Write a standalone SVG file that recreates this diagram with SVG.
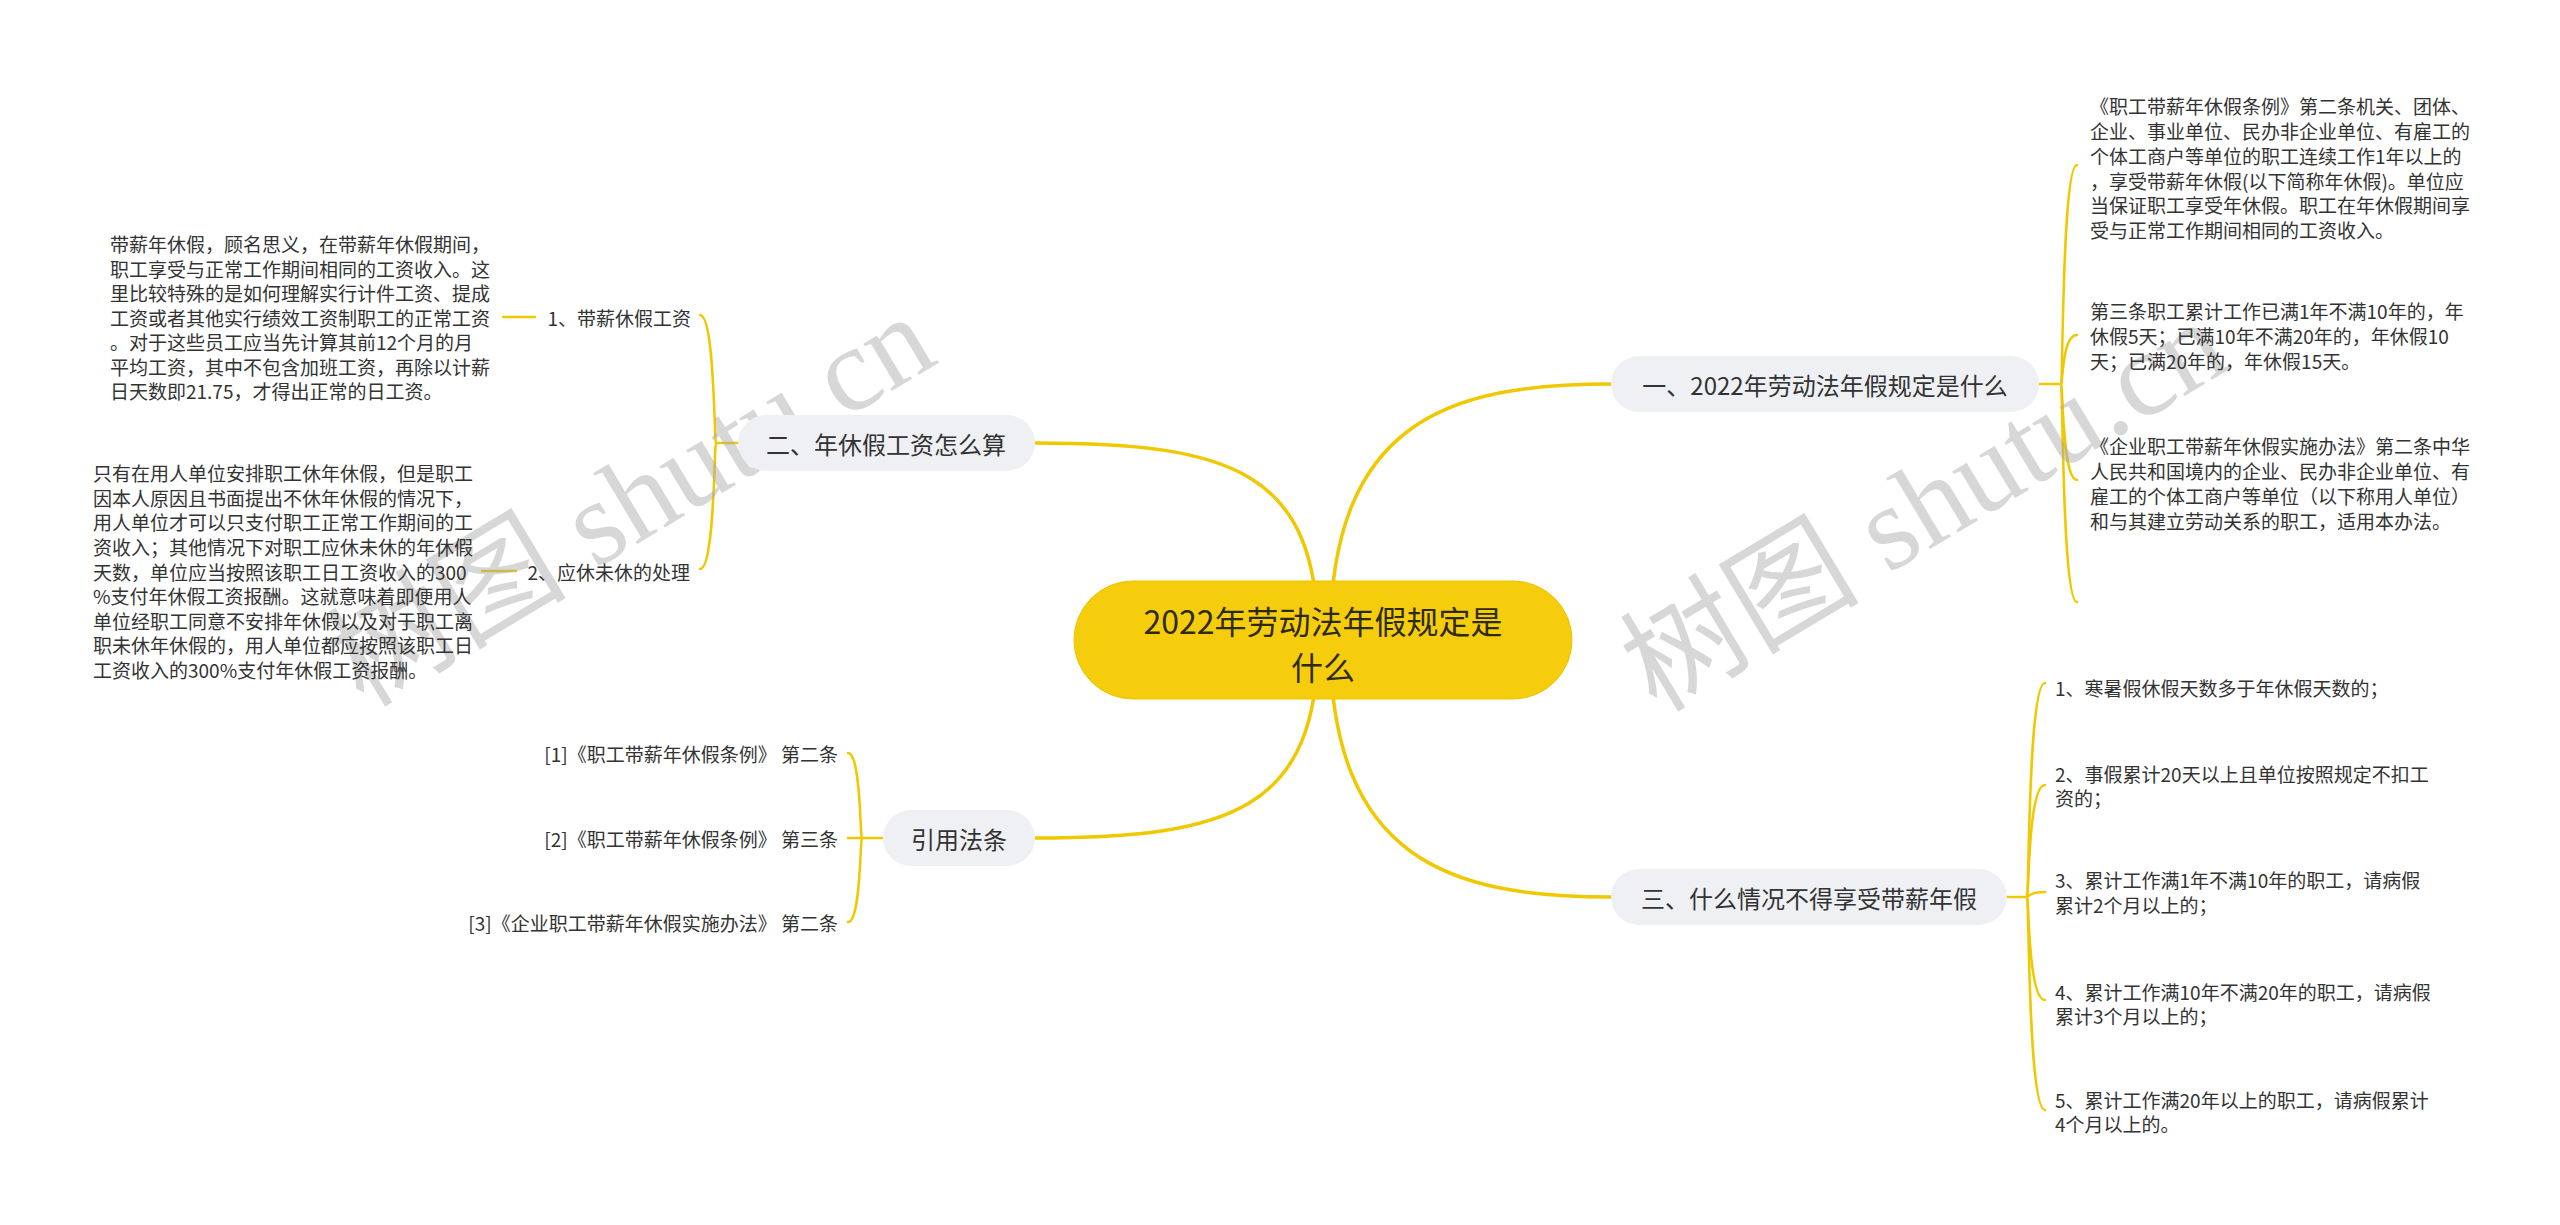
<svg xmlns="http://www.w3.org/2000/svg" width="2560" height="1225" viewBox="0 0 2560 1225">
<style>
text{font-family:"Noto Sans CJK SC","Noto Sans",sans-serif;fill:#333;dominant-baseline:central}
.c{font-size:32px;text-anchor:middle;fill:#2e2a10}
.b{font-size:24px;text-anchor:middle}
.t{font-size:19px}
.r{font-size:19px;text-anchor:end}
.bn{fill:#eef0f3}
.ln{fill:none;stroke:#f0c800;stroke-width:3.5;stroke-linecap:round}
.sl{fill:none;stroke:#f0c800;stroke-width:2.5;stroke-linecap:round}
.wm{font-family:"Liberation Serif","Noto Sans CJK SC",serif;font-size:120px;fill:#a8a8a8;opacity:0.45;dominant-baseline:auto;text-anchor:middle}
</style>
<rect width="2560" height="1225" fill="#fff"/>
<g id="connectors">
<path class="ln" d="M1330,640 C1330,420 1450,384 1611,384"/>
<path class="ln" d="M1330,640 C1330,860 1450,897 1611,897"/>
<path class="ln" d="M1035,443 C1230,443 1318,470 1318,640"/>
<path class="ln" d="M1035,838 C1230,838 1318,810 1318,640"/>
<path class="sl" d="M2039,384 L2061,384"/>
<path class="sl" d="M2061,384 C2063,384 2062,165 2077,165"/>
<path class="sl" d="M2061,384 C2063,384 2062,335 2077,335"/>
<path class="sl" d="M2061,384 C2063,384 2062,480 2077,480"/>
<path class="sl" d="M2061,384 C2063,384 2062,602 2077,602"/>
<path class="sl" d="M2007,897 L2027,897"/>
<path class="sl" d="M2027,897 C2029,897 2028,683 2045,683"/>
<path class="sl" d="M2027,897 C2029,897 2028,785 2045,785"/>
<path class="sl" d="M2027,897 C2029,897 2028,892 2045,892"/>
<path class="sl" d="M2027,897 C2029,897 2028,1000 2045,1000"/>
<path class="sl" d="M2027,897 C2029,897 2028,1110 2045,1110"/>
<path class="sl" d="M738,443 L716,443"/>
<path class="sl" d="M716,443 C714,443 715,315 700,315"/>
<path class="sl" d="M716,443 C714,443 715,569 700,569"/>
<path class="sl" d="M535,317 L503,317"/>
<path class="sl" d="M516,571 L482,571"/>
<path class="sl" d="M883,838 L862,838"/>
<path class="sl" d="M862,838 C860,838 861,753 848,753"/>
<path class="sl" d="M862,838 L848,838"/>
<path class="sl" d="M862,838 C860,838 861,922 848,922"/>
</g>
<g id="watermark">
<text class="wm" transform="translate(652,535) rotate(-31)">树图 shutu.cn</text>
<text class="wm" transform="translate(1945,540) rotate(-31)">树图 shutu.cn</text>
</g>
<g id="center">
<rect x="1074" y="581" width="498" height="118" rx="59" fill="#f5cd0c" stroke="#ecc200" stroke-width="1"/>
<text class="c" x="1323" y="620">2022年劳动法年假规定是</text>
<text class="c" x="1323" y="666">什么</text>
</g>
<g id="b1">
<rect class="bn" x="1611" y="356" width="428" height="56" rx="28"/>
<text class="b" x="1825" y="384">一、2022年劳动法年假规定是什么</text>
</g>
<g id="b3">
<rect class="bn" x="1611" y="869" width="396" height="56" rx="28"/>
<text class="b" x="1809" y="897">三、什么情况不得享受带薪年假</text>
</g>
<g id="b2">
<rect class="bn" x="738" y="415" width="297" height="56" rx="28"/>
<text class="b" x="886" y="443">二、年休假工资怎么算</text>
</g>
<g id="b4">
<rect class="bn" x="883" y="810" width="152" height="56" rx="28"/>
<text class="b" x="959" y="838">引用法条</text>
</g>
<g id="b1c1">
<text class="t" x="2090"><tspan x="2090" y="105">《职工带薪年休假条例》第二条机关、团体、</tspan><tspan x="2090" y="130">企业、事业单位、民办非企业单位、有雇工的</tspan><tspan x="2090" y="155">个体工商户等单位的职工连续工作1年以上的</tspan><tspan x="2090" y="180">，享受带薪年休假(以下简称年休假)。单位应</tspan><tspan x="2090" y="204">当保证职工享受年休假。职工在年休假期间享</tspan><tspan x="2090" y="229">受与正常工作期间相同的工资收入。</tspan></text>
</g>
<g id="b1c2">
<text class="t" x="2090"><tspan x="2090" y="310">第三条职工累计工作已满1年不满10年的，年</tspan><tspan x="2090" y="335">休假5天；已满10年不满20年的，年休假10</tspan><tspan x="2090" y="360">天；已满20年的，年休假15天。</tspan></text>
</g>
<g id="b1c3">
<text class="t" x="2090"><tspan x="2090" y="445">《企业职工带薪年休假实施办法》第二条中华</tspan><tspan x="2090" y="470">人民共和国境内的企业、民办非企业单位、有</tspan><tspan x="2090" y="495">雇工的个体工商户等单位（以下称用人单位）</tspan><tspan x="2090" y="520">和与其建立劳动关系的职工，适用本办法。</tspan></text>
</g>
<g id="b3c1">
<text class="t" x="2055" y="687">1、寒暑假休假天数多于年休假天数的；</text>
</g>
<g id="b3c2">
<text class="t" x="2055"><tspan x="2055" y="773">2、事假累计20天以上且单位按照规定不扣工</tspan><tspan x="2055" y="797">资的；</tspan></text>
</g>
<g id="b3c3">
<text class="t" x="2055"><tspan x="2055" y="879">3、累计工作满1年不满10年的职工，请病假</tspan><tspan x="2055" y="904">累计2个月以上的；</tspan></text>
</g>
<g id="b3c4">
<text class="t" x="2055"><tspan x="2055" y="991">4、累计工作满10年不满20年的职工，请病假</tspan><tspan x="2055" y="1015">累计3个月以上的；</tspan></text>
</g>
<g id="b3c5">
<text class="t" x="2055"><tspan x="2055" y="1099">5、累计工作满20年以上的职工，请病假累计</tspan><tspan x="2055" y="1123">4个月以上的。</tspan></text>
</g>
<g id="b2c1">
<text class="r" x="691" y="317">1、带薪休假工资</text>
</g>
<g id="b2c1d">
<text class="t" x="110"><tspan x="110" y="243">带薪年休假，顾名思义，在带薪年休假期间，</tspan><tspan x="110" y="268">职工享受与正常工作期间相同的工资收入。这</tspan><tspan x="110" y="292">里比较特殊的是如何理解实行计件工资、提成</tspan><tspan x="110" y="317">工资或者其他实行绩效工资制职工的正常工资</tspan><tspan x="110" y="341">。对于这些员工应当先计算其前12个月的月</tspan><tspan x="110" y="366">平均工资，其中不包含加班工资，再除以计薪</tspan><tspan x="110" y="390">日天数即21.75，才得出正常的日工资。</tspan></text>
</g>
<g id="b2c2">
<text class="r" x="690" y="571">2、应休未休的处理</text>
</g>
<g id="b2c2d">
<text class="t" x="93"><tspan x="93" y="472">只有在用人单位安排职工休年休假，但是职工</tspan><tspan x="93" y="497">因本人原因且书面提出不休年休假的情况下，</tspan><tspan x="93" y="521">用人单位才可以只支付职工正常工作期间的工</tspan><tspan x="93" y="546">资收入；其他情况下对职工应休未休的年休假</tspan><tspan x="93" y="571">天数，单位应当按照该职工日工资收入的300</tspan><tspan x="93" y="595">%支付年休假工资报酬。这就意味着即便用人</tspan><tspan x="93" y="620">单位经职工同意不安排年休假以及对于职工离</tspan><tspan x="93" y="644">职未休年休假的，用人单位都应按照该职工日</tspan><tspan x="93" y="669">工资收入的300%支付年休假工资报酬。</tspan></text>
</g>
<g id="b4c1">
<text class="r" x="838" y="753">[1]《职工带薪年休假条例》 第二条</text>
</g>
<g id="b4c2">
<text class="r" x="838" y="838">[2]《职工带薪年休假条例》 第三条</text>
</g>
<g id="b4c3">
<text class="r" x="838" y="922">[3]《企业职工带薪年休假实施办法》 第二条</text>
</g>
</svg>
